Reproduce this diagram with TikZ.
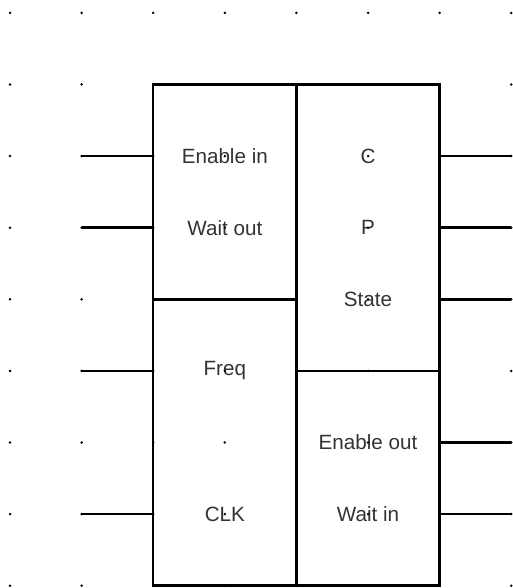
\documentclass[tikz,border=0pt]{standalone}
\usepackage{fontspec}
\setmainfont{Liberation Sans}
\usepackage{tikz}
\usetikzlibrary{positioning}

\begin{document}
\begin{tikzpicture}[font=\fontsize{8.2}{10}\selectfont,
  blk/.style={draw, line width=1pt, inner sep=0pt},
  lbl/.style={text=black!80},
  wire/.style={line width=1pt}]
\useasboundingbox (-0.14,0.18) rectangle (7.011,-8.032);
% the four blocks
\node[blk, minimum width=2cm, minimum height=3cm] (hs) at (3,-2.5){};
\node[blk, minimum width=2cm, minimum height=4cm] (clk) at (3,-6){};
\node[blk, minimum width=2cm, minimum height=4cm] (cp) at (5,-3){};
\node[blk, minimum width=2cm, minimum height=3cm] (out) at (5,-6.5){};
% labels
\node[lbl] (enin) at (3,-2) {Enable in};
\node[lbl] (wout) at (3,-3) {Wait out};
\node[lbl] (freq) at (3,-5) {Freq};
\node[lbl] (ck) at (3,-7) {CLK};
\node[lbl] (c) at (5,-2) {C};
\node[lbl] (p) at (5,-3) {P};
\node[lbl] (st) at (5,-4) {State};
\node[lbl] (enout) at (5,-6) {Enable out};
\node[lbl] (win) at (5,-7) {Wait in};
% input and output wires
\foreach \j in {2, 3, 5, 7}{
\coordinate (l\j) at (1,-\j);
\draw[wire] (l\j) -- (l\j -| hs.west);}
\foreach \j in {2, 3, 4, 6, 7}{
\coordinate (r\j) at (6.99,-\j);
\draw[wire] (r\j -| cp.east) -- (r\j);}
% grid points
\foreach \i in {0, 1, ..., 7}{
\foreach \j in {0, 1, ..., 8}{
\fill (\i,-\j) circle (0.55pt);}}
\end{tikzpicture}
\end{document}
